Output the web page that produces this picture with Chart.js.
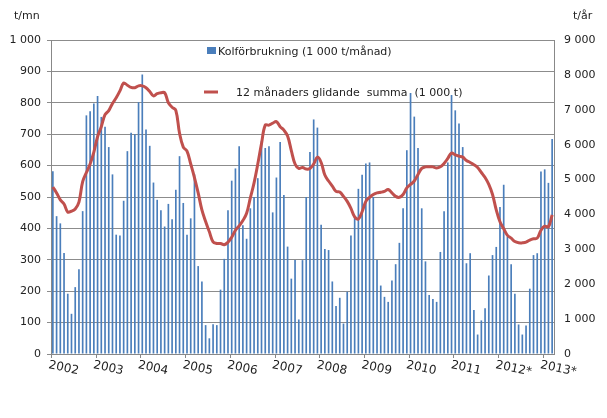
<!DOCTYPE html>
<html>
<head>
<meta charset="utf-8">
<script src="https://cdn.jsdelivr.net/npm/chart.js@4"></script>
<style>
  body { margin: 0; background: #fff; }
  #wrap { width: 607px; height: 418px; }
</style>
</head>
<body>
<div id="wrap"><canvas id="c"></canvas></div>
<script>
// monthly coal use, 1 000 t / month, Jan 2002 .. Mar 2013
const years = ["2002","2003","2004","2005","2006","2007","2008","2009","2010","2011","2012*","2013*"];
const monthly = [
  582,439,416,322,192,128,213,270,455,760,773,798,
  822,755,724,659,572,380,377,488,646,705,700,802,
  890,715,663,546,491,458,406,478,429,523,630,481,
  380,432,572,280,231,92,50,95,92,205,303,458,
  552,591,662,410,367,464,500,560,679,656,662,451,
  562,675,506,342,240,299,110,299,500,643,747,721,
  412,334,331,231,153,179,97,198,377,438,526,571,
  607,610,500,299,218,182,166,234,286,354,464,649,
  831,756,656,464,295,188,175,166,325,455,610,825,
  776,734,659,289,321,140,62,107,146,250,315,341,
  468,539,373,286,192,94,62,91,208,315,321,581,
  588,545,685
];
// 12-month moving sum, read in left-axis units (x9 gives 1 000 t)
const movingLeft = [
  532,513,491,478,452,455,462,484,549,578,605,643,
  692,724,762,775,798,816,838,863,856,849,848,854,
  854,848,836,822,829,832,832,800,786,776,703,659,
  646,605,562,513,459,422,389,357,352,352,348,356,
  372,394,408,425,448,497,545,605,670,729,729,735,
  740,724,713,694,648,605,591,594,589,591,605,627,
  610,570,551,535,518,516,502,486,464,437,430,453,
  486,499,508,513,515,518,524,513,502,499,508,529,
  540,551,572,591,596,596,596,592,596,607,623,640,
  634,630,627,616,610,603,594,578,562,540,508,459,
  421,399,378,369,358,354,354,356,363,367,369,394,
  407,405,443
];
const movingSum = movingLeft.map(v => v * 9);
const labels = monthly.map((v, i) => years[Math.floor(i / 12)] + "-" + (i % 12 + 1));

const fmt = v => v >= 1000 ? Math.floor(v / 1000) + " " + String(v % 1000).padStart(3, "0") : String(v);
const FONT = "'DejaVu Sans', Verdana, sans-serif";

const overlay = {
  id: "overlay",
  afterDraw(chart) {
    const ctx = chart.ctx, x = chart.scales.x, area = chart.chartArea;
    ctx.save();
    ctx.fillStyle = "#222";
    ctx.font = "11px " + FONT;
    ctx.textBaseline = "alphabetic";
    ctx.fillText("t/mn", 14, 19);
    ctx.fillText("t/år", 573, 19);
    // year labels, tilted
    ctx.font = "12px " + FONT;
    years.forEach((y, i) => {
      const px = x.getPixelForValue(i * 12) - x.width / monthly.length / 2;
      ctx.save();
      ctx.translate(px - 3, 368);
      ctx.rotate(12 * Math.PI / 180);
      ctx.fillText(y, 0, 0);
      ctx.restore();
    });
    // year ticks
    ctx.strokeStyle = "#888";
    ctx.lineWidth = 1;
    years.forEach((y, i) => {
      const px = Math.round(x.getPixelForValue(i * 12) - x.width / monthly.length / 2) + 0.5;
      ctx.beginPath(); ctx.moveTo(px, area.bottom); ctx.lineTo(px, area.bottom + 4); ctx.stroke();
    });
    // legend
    ctx.font = "11px " + FONT;
    ctx.fillStyle = "#4a7ebb";
    ctx.fillRect(207, 47, 9, 7);
    ctx.fillStyle = "#222";
    ctx.fillText("Kolförbrukning (1 000 t/månad)", 218, 55);
    ctx.strokeStyle = "#c0504d";
    ctx.lineWidth = 3;
    ctx.beginPath(); ctx.moveTo(204, 92); ctx.lineTo(218, 92); ctx.stroke();
    ctx.fillText("12 månaders glidande  summa  (1 000 t)", 236, 96);
    ctx.restore();
  }
};

new Chart(document.getElementById("c"), {
  data: {
    labels: labels,
    datasets: [
      {
        type: "line",
        label: "12 månaders glidande summa (1 000 t)",
        data: movingSum,
        yAxisID: "y2",
        borderColor: "#c0504d",
        borderWidth: 3,
        pointRadius: 0,
        tension: 0.4,
        order: 0
      },
      {
        type: "bar",
        label: "Kolförbrukning (1 000 t/månad)",
        data: monthly,
        yAxisID: "y",
        backgroundColor: "#4a7ebb",
        barPercentage: 0.45,
        categoryPercentage: 1,
        order: 1
      }
    ]
  },
  options: {
    responsive: true,
    maintainAspectRatio: false,
    animation: false,
    layout: { padding: { top: 40, left: 0, right: 0, bottom: 0 } },
    plugins: { legend: { display: false }, tooltip: { enabled: false } },
    scales: {
      x: {
        offset: true,
        grid: { display: false, drawTicks: false },
        border: { color: "#888" },
        ticks: { display: false },
        afterFit(s) { s.height = 64; }
      },
      y: {
        min: 0, max: 1000,
        ticks: { stepSize: 100, color: "#222", font: { family: FONT, size: 11 }, callback: v => fmt(v), padding: 6 },
        grid: { color: "#8c8c8c", drawTicks: true, tickLength: 4 },
        border: { color: "#888" },
        afterFit(s) { s.width = 51; }
      },
      y2: {
        position: "right",
        min: 0, max: 9000,
        ticks: { stepSize: 1000, color: "#222", font: { family: FONT, size: 11 }, callback: v => fmt(v), padding: 6 },
        grid: { display: false, drawTicks: true, tickLength: 4 },
        border: { color: "#888" },
        afterFit(s) { s.width = 53; }
      }
    }
  },
  plugins: [overlay]
});
</script>
</body>
</html>
